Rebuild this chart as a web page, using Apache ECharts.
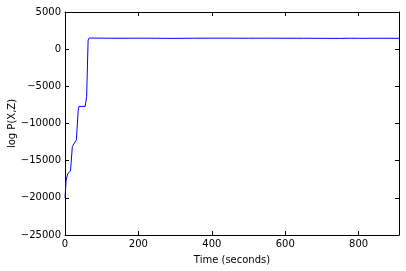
<!DOCTYPE html>
<html><head><meta charset="utf-8">
<script src="https://cdn.jsdelivr.net/npm/echarts@6/dist/echarts.min.js"></script>
<style>html,body{margin:0;padding:0;background:#fff}#c{width:406px;height:271px}</style>
</head><body><div id="c"></div>
<script>
const times = [0, 2, 3, 8, 13, 15, 20, 24, 31, 36, 38, 55, 59, 63, 66, 70, 100, 150, 200, 250, 300, 350, 400, 450, 500, 550, 600, 650, 700, 750, 780, 800, 850, 910];
const logP = [-20000, -18500, -17600, -16700, -16500, -16400, -13100, -12760, -12200, -8190, -7700, -7700, -6390, 1230, 1500, 1480, 1480, 1470, 1480, 1470, 1450, 1470, 1480, 1480, 1470, 1480, 1470, 1470, 1460, 1450, 1470, 1460, 1470, 1460];
const xTicks = [0, 200, 400, 600, 800];
const yTicks = [-25000, -20000, -15000, -10000, -5000, 0, 5000];

const font = 'DejaVu Sans';
const chart = echarts.init(document.getElementById('c'), null, {renderer: 'canvas'});
const tick = {show: true, inside: true, length: 4, lineStyle: {color: '#000', width: 1}};
const line = {show: true, onZero: false, lineStyle: {color: '#000', width: 1}};
chart.setOption({
  animation: false,
  grid: {left: 65, right: 7, top: 12, bottom: 36, containLabel: false, outerBoundsMode: 'none'},
  xAxis: [{
    type: 'value', min: 0, max: 910, interval: 200,
    name: 'Time (seconds)', nameLocation: 'middle', nameGap: 20, nameMoveOverlap: false,
    nameTextStyle: {fontFamily: font, fontSize: 10, color: '#000'},
    axisLine: line, axisTick: tick, splitLine: {show: false},
    axisLabel: {fontFamily: font, fontSize: 10, color: '#000', margin: 4, showMaxLabel: false}
  }, {
    type: 'value', position: 'top', min: 0, max: 910, interval: 200,
    axisLine: line, axisTick: tick, splitLine: {show: false}, axisLabel: {show: false}
  }],
  yAxis: [{
    type: 'value', min: -25000, max: 5000, interval: 5000,
    name: 'log P(X,Z)', nameLocation: 'middle', nameGap: 48, nameMoveOverlap: false,
    nameTextStyle: {fontFamily: font, fontSize: 10, color: '#000'},
    axisLine: line, axisTick: tick, splitLine: {show: false},
    axisLabel: {fontFamily: font, fontSize: 10, color: '#000', margin: 4,
      formatter: v => (v < 0 ? '\u2212' + Math.abs(v) : String(v))}
  }, {
    type: 'value', position: 'right', min: -25000, max: 5000, interval: 5000,
    axisLine: line, axisTick: tick, splitLine: {show: false}, axisLabel: {show: false}
  }],
  series: [{
    type: 'line', data: times.map((t, i) => [t, logP[i]]),
    showSymbol: false, lineStyle: {color: '#0000ff', width: 1}, itemStyle: {color: '#0000ff'}
  }]
});
</script></body></html>
